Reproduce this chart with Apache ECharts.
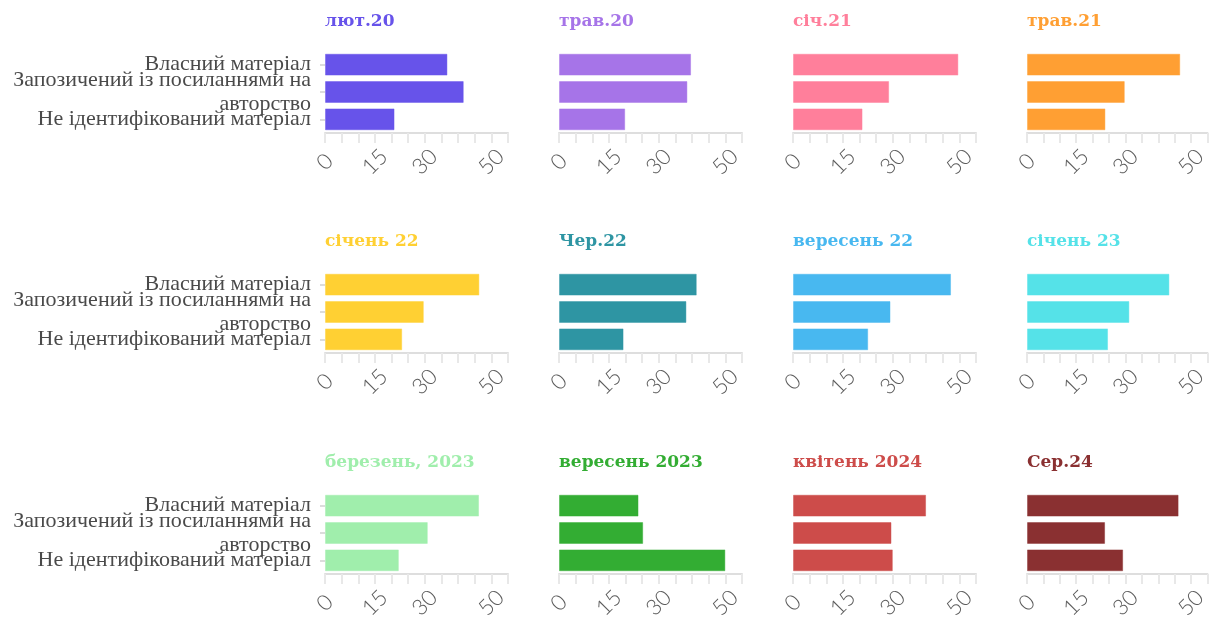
<!DOCTYPE html>
<html>
<head>
<meta charset="utf-8">
<script src="https://cdn.jsdelivr.net/npm/echarts@6/dist/echarts.min.js"></script>
<style>
  html, body { margin: 0; padding: 0; background: #fff; }
  #chart { width: 1210px; height: 626px; }
</style>
</head>
<body>
<div id="chart"></div>
<script>
'use strict';
// категорії (зверху вниз)
var categories = ['Власний матеріал', 'Запозичений із посиланнями на авторство', 'Не ідентифікований матеріал'];
var periods = ['лют.20', 'трав.20', 'січ.21', 'трав.21', 'січень 22', 'Чер.22', 'вересень 22', 'січень 23',
               'березень, 2023', 'вересень 2023', 'квітень 2024', 'Сер.24'];
var ownMaterial  = [36.8, 39.7, 49.7, 46.7, 46.4, 41.4, 47.5, 43.4, 46.3, 23.9, 40.0, 46.2];
var borrowed     = [41.7, 38.6, 28.9, 29.8, 29.7, 38.3, 29.3, 31.2, 30.9, 25.3, 29.6, 23.8];
var unidentified = [20.9, 19.9, 20.9, 23.9, 23.2, 19.4, 22.6, 24.7, 22.2, 50.0, 30.0, 29.3];
var colors = ['#6753ea', '#a674e8', '#ff7f9b', '#ff9f33', '#ffd033', '#2e95a3',
              '#48b8f0', '#55e2e8', '#a0eeac', '#33ad33', '#cd4c4a', '#8a3031'];
var xTickLabels = [0, 15, 30, 50];

var chart = echarts.init(document.getElementById('chart'));

var colLeft = [325, 559, 793, 1027];
var rowTop = [51, 271, 492];
var gridW = 183, gridH = 82;

var grids = [], xAxes = [], yAxes = [], series = [], titles = [];

periods.forEach(function(p, i) {
    var col = i % 4, row = Math.floor(i / 4);
    var first = col === 0;
    grids.push({ left: colLeft[col], top: rowTop[row], width: gridW, height: gridH });
    titles.push({
        text: p, left: colLeft[col], top: rowTop[row] - 38, padding: 0,
        textStyle: { color: colors[i], fontFamily: 'DejaVu Serif', fontWeight: 'bold', fontSize: 17 }
    });
    xAxes.push({
        type: 'value', gridIndex: i, min: 0, max: 55, interval: 5,
        splitLine: { show: false },
        axisLine: { show: true, lineStyle: { color: '#dedede', width: 2 } },
        axisTick: { show: true, length: 10, lineStyle: { color: '#e8e8e8', width: 2 } },
        axisLabel: {
            rotate: 45, align: 'center', verticalAlign: 'middle', margin: 29,
            color: '#5c5c5c', fontFamily: 'Lato', fontWeight: 300, fontSize: 22,
            showMinLabel: true, showMaxLabel: true, hideOverlap: false,
            formatter: function(v) { return xTickLabels.indexOf(v) >= 0 ? String(v) : ''; }
        }
    });
    yAxes.push({
        type: 'category', gridIndex: i, data: categories, inverse: true,
        axisLine: { show: false },
        axisTick: { show: first, length: 5, alignWithLabel: true, lineStyle: { color: '#dcdcdc', width: 2 } },
        axisLabel: {
            show: first, interval: 0, margin: 14, color: '#4a4a4a', fontFamily: 'Liberation Serif', fontSize: 22,
            lineHeight: 24,
            formatter: function(v) { return v.replace(' на авторство', ' на\nавторство'); }
        }
    });
    series.push({
        type: 'bar', xAxisIndex: i, yAxisIndex: i, barCategoryGap: '20%',
        data: [ownMaterial[i], borrowed[i], unidentified[i]],
        itemStyle: { color: colors[i], borderColor: echarts.color.modifyAlpha(colors[i], 0.45), borderWidth: 1 },
        silent: true
    });
});

chart.setOption({
    animation: false,
    title: titles,
    grid: grids,
    xAxis: xAxes,
    yAxis: yAxes,
    series: series
});
</script>
</body>
</html>
